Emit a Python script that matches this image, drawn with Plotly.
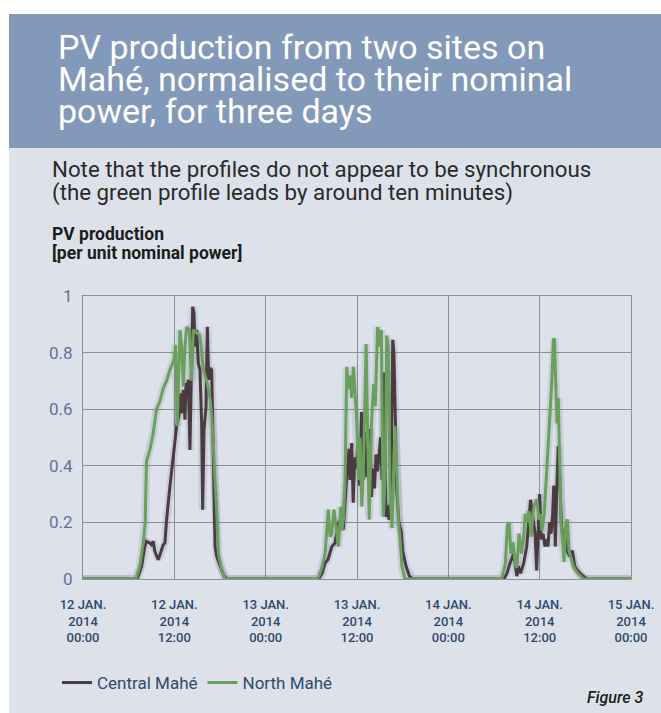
import pandas as pd
import plotly.graph_objects as go

# ---------------- data (hours after 12 Jan 2014 00:00, per-unit values) ----------------
central_hours = [0, 7.11, 7.69, 8.12, 8.34, 8.78, 9.00, 9.22, 9.44, 9.88,
                 10.19, 10.54, 10.76, 10.98, 11.42, 11.86, 12.30, 12.65, 12.82, 13.00,
                 13.18, 13.40, 13.53, 13.71, 13.83, 14.05, 14.27, 14.41, 14.58, 14.71,
                 14.93, 15.15, 15.37, 15.59, 15.72, 15.90, 16.16, 16.34, 16.51, 16.69,
                 16.91, 17.04, 17.22, 17.35, 17.57, 18.01, 18.45, 18.88,
                 30.95, 31.4, 31.8, 32.2, 32.7, 33.1, 33.6, 33.9, 34.2, 34.6,
                 34.95, 35.1, 35.3, 35.5, 35.7, 35.9, 36.1, 36.35, 36.6, 36.8,
                 37.0, 37.3, 37.5, 37.7, 37.9, 38.1, 38.3, 38.5, 38.7, 38.9,
                 39.1, 39.3, 39.6, 39.8, 40.0, 40.2, 40.45, 40.7, 40.85, 41.05,
                 41.2, 41.5, 41.8, 42.0, 42.45, 42.9, 43.3,
                 55.3, 55.7, 56.1, 56.6, 57.0, 57.2, 57.5, 57.9, 58.3, 58.8,
                 59.05, 59.4, 59.6, 59.8, 60.0, 60.2, 60.45, 60.7, 60.9, 61.1,
                 61.3, 61.5, 61.7, 61.85, 62.06, 62.28, 62.45, 62.65, 62.85, 63.1,
                 63.35, 63.6, 63.95, 64.3, 64.6, 65.0, 65.5, 66.2, 72]
central_values = [0, 0, 0.045, 0.115, 0.133, 0.127, 0.121, 0.133, 0.098, 0.068,
                  0.092, 0.121, 0.127, 0.209, 0.327, 0.433, 0.539, 0.586, 0.656, 0.586,
                  0.668, 0.563, 0.692, 0.668, 0.704, 0.456, 0.704, 0.962, 0.939, 0.821,
                  0.880, 0.762, 0.739, 0.550, 0.245, 0.527, 0.609, 0.891, 0.704, 0.745,
                  0.739, 0.586, 0.351, 0.115, 0.080, 0.045, 0.015, 0,
                  0, 0.02, 0.056, 0.07, 0.115, 0.127, 0.2, 0.21, 0.175, 0.34,
                  0.46, 0.35, 0.48, 0.27, 0.43, 0.39, 0.47, 0.33, 0.59, 0.35,
                  0.52, 0.36, 0.45, 0.53, 0.29, 0.39, 0.32, 0.44, 0.38, 0.44,
                  0.5, 0.35, 0.73, 0.22, 0.26, 0.21, 0.3, 0.845, 0.8, 0.55,
                  0.32, 0.2, 0.17, 0.1, 0.045, 0.01, 0,
                  0, 0.02, 0.056, 0.09, 0.01, 0.045, 0.02, 0.056, 0.115, 0.28,
                  0.23, 0.16, 0.03, 0.2, 0.30, 0.14, 0.16, 0.115, 0.14, 0.115,
                  0.2, 0.16, 0.23, 0.33, 0.115, 0.35, 0.47, 0.35, 0.2, 0.13,
                  0.16, 0.1, 0.08, 0.1, 0.045, 0.03, 0.015, 0, 0]

north_hours = [0, 6.94, 7.47, 7.91, 8.17, 8.34, 8.78, 9.22, 9.66, 10.10,
               10.54, 10.98, 11.42, 11.95, 12.17, 12.38, 12.74, 12.96, 13.18, 13.40,
               13.61, 13.97, 14.27, 14.49, 14.93, 15.37, 15.59, 15.81, 16.25, 16.69,
               16.91, 17.13, 17.35, 17.57, 17.79, 18.23, 18.66,
               30.7, 31.0, 31.4, 31.8, 32.24, 32.45, 32.68, 32.98, 33.3, 33.56,
               33.86, 34.0, 34.21, 34.43, 34.65, 34.87, 35.09, 35.3, 35.53, 35.75,
               35.97, 36.2, 36.4, 36.63, 36.85, 37.2, 37.4, 37.6, 37.9, 38.2,
               38.4, 38.7, 38.86, 39.0, 39.2, 39.45, 39.7, 39.9, 40.1, 40.35,
               40.6, 40.85, 41.0, 41.2, 41.45, 41.67, 41.9, 42.3,
               55.0, 55.5, 55.77, 56.0, 56.2, 56.5, 56.8, 57.0, 57.3, 57.6,
               57.9, 58.1, 58.35, 58.6, 58.9, 59.1, 59.3, 59.65, 59.9, 60.1,
               60.3, 60.6, 60.95, 61.15, 61.4, 61.6, 61.8, 61.95, 62.1, 62.28,
               62.45, 62.6, 62.8, 63.0, 63.2, 63.45, 63.65, 63.85, 64.1, 64.5,
               65.0, 65.8, 72]
north_values = [0, 0, 0.045, 0.127, 0.2, 0.415, 0.456, 0.515, 0.60, 0.627,
                0.674, 0.70, 0.739, 0.774, 0.827, 0.54, 0.88, 0.82, 0.68, 0.82,
                0.89, 0.88, 0.70, 0.88, 0.87, 0.86, 0.80, 0.74, 0.70, 0.64,
                0.58, 0.47, 0.374, 0.233, 0.09, 0.033, 0,
                0, 0.01, 0.04, 0.09, 0.245, 0.15, 0.16, 0.245, 0.16, 0.115,
                0.255, 0.17, 0.21, 0.35, 0.75, 0.67, 0.72, 0.64, 0.75, 0.65,
                0.56, 0.35, 0.5, 0.256, 0.4, 0.83, 0.43, 0.21, 0.55, 0.69,
                0.61, 0.89, 0.87, 0.82, 0.88, 0.22, 0.35, 0.86, 0.82, 0.29,
                0.18, 0.47, 0.54, 0.4, 0.2, 0.14, 0.045, 0,
                0, 0.056, 0.19, 0.2, 0.09, 0.13, 0.05, 0.04, 0.16, 0.09,
                0.15, 0.23, 0.2, 0.24, 0.15, 0.23, 0.26, 0.28, 0.21, 0.23,
                0.17, 0.23, 0.386, 0.515, 0.586, 0.70, 0.845, 0.85, 0.70, 0.55,
                0.64, 0.46, 0.2, 0.14, 0.06, 0.2, 0.21, 0.1, 0.08, 0.04,
                0.02, 0, 0]

series_names = ["Central Mahé", "North Mahé"]
x_tick_hours = [0, 12, 24, 36, 48, 60, 72]
x_tick_labels = ["12 JAN.<br>2014<br>00:00", "12 JAN.<br>2014<br>12:00",
                 "13 JAN.<br>2014<br>00:00", "13 JAN.<br>2014<br>12:00",
                 "14 JAN.<br>2014<br>00:00", "14 JAN.<br>2014<br>12:00",
                 "15 JAN.<br>2014<br>00:00"]
y_tick_values = [0, 0.2, 0.4, 0.6, 0.8, 1]
y_tick_labels = ["0", "0.2", "0.4", "0.6", "0.8", "1"]

title_lines = ["PV production from two sites on",
               "Mahé, normalised to their nominal",
               "power, for three days"]
subtitle_lines = ["Note that the profiles do not appear to be synchronous",
                  "(the green profile leads by around ten minutes)"]
ytitle_lines = ["PV production", "[per unit nominal power]"]

start = pd.Timestamp("2014-01-12 00:00")


def to_time(hours):
    return [start + pd.Timedelta(hours=h) for h in hours]


# ---------------- layout geometry ----------------
W, H = 661, 713
ML, MR, MT, MB = 83, 30, 296, 134
PW, PH = W - ML - MR, H - MT - MB


def X(px):
    return (px - ML) / PW


def Y(py):
    return (H - MB - py) / PH


FONT = "Roboto, Lato, 'Open Sans', sans-serif"
PANEL = "#dde2ea"
BANNER = "#8399b9"
GRID = "#8e9198"
NAVY = "#2e4a6e"
DARK = "#4b3b40"
GREEN = "#6b9f5c"

fig = go.Figure()

# soft shadows under the lines
for hrs, vals in [(central_hours, central_values), (north_hours, north_values)]:
    fig.add_trace(go.Scatter(x=to_time(hrs), y=vals, mode="lines",
                             line=dict(color="rgba(60,70,95,0.12)", width=8),
                             hoverinfo="skip", showlegend=False))

fig.add_trace(go.Scatter(x=to_time(central_hours), y=central_values, mode="lines",
                         name=series_names[0], line=dict(color=DARK, width=3)))
fig.add_trace(go.Scatter(x=to_time(north_hours), y=north_values, mode="lines",
                         name=series_names[1], line=dict(color=GREEN, width=3)))

shapes = [
    dict(type="rect", xref="paper", yref="paper", x0=X(9), x1=X(W + 5), y0=Y(H + 5), y1=Y(14),
         fillcolor=PANEL, line=dict(width=0), layer="below"),
    dict(type="rect", xref="paper", yref="paper", x0=X(9), x1=X(W + 5), y0=Y(148), y1=Y(14),
         fillcolor=BANNER, line=dict(width=0), layer="below"),
]

annotations = []
for i, t in enumerate(title_lines):
    annotations.append(dict(text=t, x=X(56), y=Y(47 + 32 * i), xref="paper", yref="paper",
                            xanchor="left", yanchor="middle", showarrow=False,
                            font=dict(family=FONT, size=34, color="white")))
for i, t in enumerate(subtitle_lines):
    annotations.append(dict(text=t, x=X(50), y=Y(169 + 23.5 * i), xref="paper", yref="paper",
                            xanchor="left", yanchor="middle", showarrow=False,
                            font=dict(family=FONT, size=22.3, color="#2a2a2a")))
for i, t in enumerate(ytitle_lines):
    annotations.append(dict(text=t, x=X(50), y=Y(234 + 19 * i), xref="paper", yref="paper",
                            xanchor="left", yanchor="middle", showarrow=False,
                            font=dict(family=FONT, size=17.5, color="#1c1c1c", weight="bold")))
annotations.append(dict(text="<i>Figure 3</i>", x=X(646), y=Y(697), xref="paper", yref="paper",
                        xanchor="right", yanchor="middle", showarrow=False,
                        font=dict(family=FONT, size=16, color="#1c1c1c", weight=500)))

fig.update_layout(
    width=W, height=H,
    margin=dict(l=ML, r=MR, t=MT, b=MB, autoexpand=False),
    paper_bgcolor="white",
    plot_bgcolor=PANEL,
    shapes=shapes,
    annotations=annotations,
    showlegend=True,
    legend=dict(orientation="h", x=X(57), xanchor="left", y=Y(683), yanchor="middle",
                font=dict(family=FONT, size=17, color=NAVY), bgcolor="rgba(0,0,0,0)",
                itemwidth=30, tracegroupgap=0),
    xaxis=dict(type="date", range=[start, start + pd.Timedelta(hours=72)],
               tickvals=to_time(x_tick_hours), ticktext=x_tick_labels,
               showgrid=True, gridcolor=GRID, gridwidth=1,
               showline=True, linecolor=GRID, linewidth=1, mirror=True,
               zeroline=False, ticks="", ticklabelstandoff=13,
               tickfont=dict(family=FONT, size=13, color=NAVY, weight=500)),
    yaxis=dict(range=[0, 1], tickvals=y_tick_values, ticktext=y_tick_labels,
               showgrid=True, gridcolor=GRID, gridwidth=1,
               showline=True, linecolor=GRID, linewidth=1, mirror=True,
               zeroline=False, ticks="", ticklabelstandoff=6,
               tickfont=dict(family=FONT, size=17, color="#5d7598")),
)

fig.write_html("out.html", config={"displayModeBar": False},
               post_script="document.body.style.margin='0px';")
